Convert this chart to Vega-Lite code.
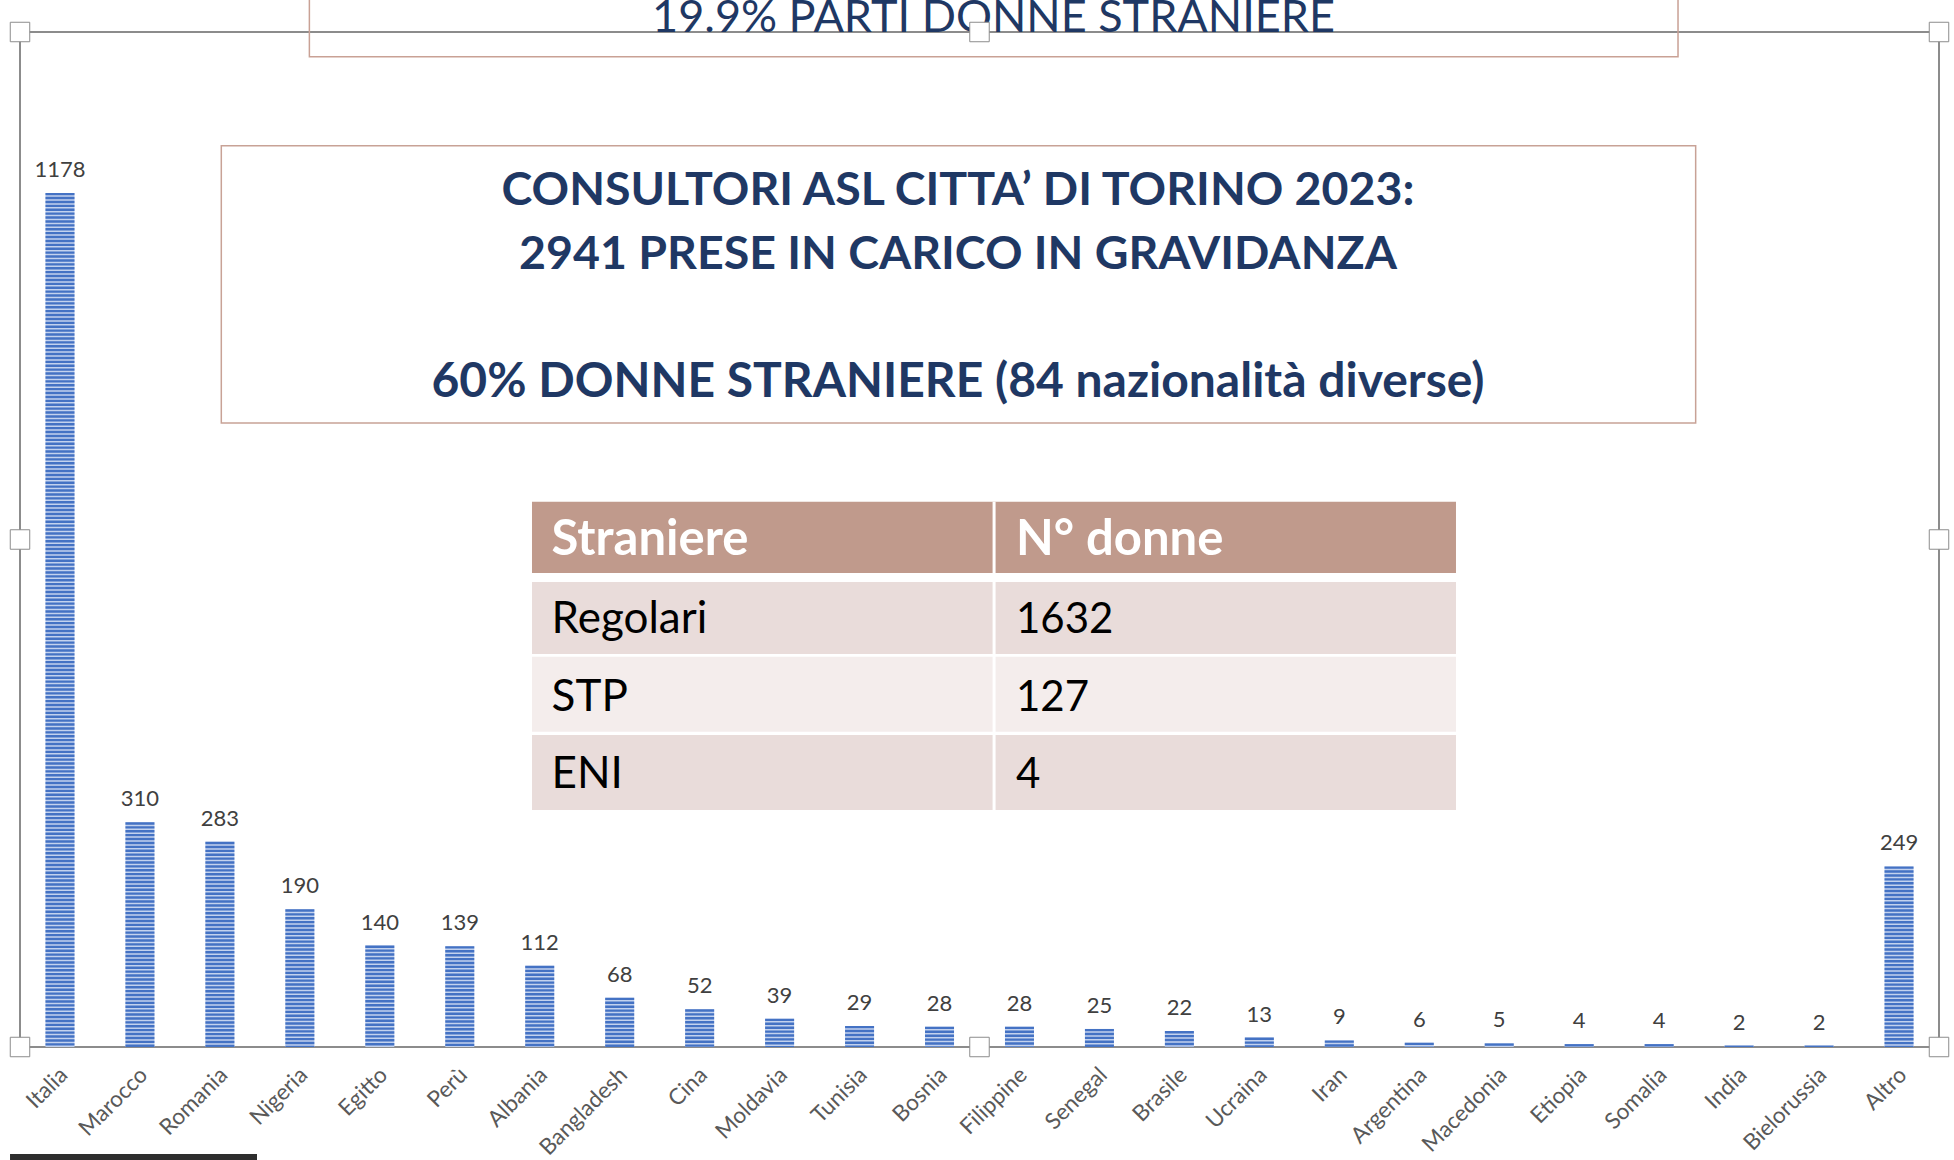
{
  "$schema": "https://vega.github.io/schema/vega-lite/v6.json",
  "width": 1919,
  "height": 1015,
  "autosize": {"type": "none"},
  "padding": {"left": 20, "top": 32, "right": 15, "bottom": 113},
  "background": "white",
  "config": {"view": {"stroke": "#8c8c8c", "strokeWidth": 2}, "font": "Lato"},
  "datasets": {
    "countries": [
      {"paese": "Italia", "n": 1178},
      {"paese": "Marocco", "n": 310},
      {"paese": "Romania", "n": 283},
      {"paese": "Nigeria", "n": 190},
      {"paese": "Egitto", "n": 140},
      {"paese": "Perù", "n": 139},
      {"paese": "Albania", "n": 112},
      {"paese": "Bangladesh", "n": 68},
      {"paese": "Cina", "n": 52},
      {"paese": "Moldavia", "n": 39},
      {"paese": "Tunisia", "n": 29},
      {"paese": "Bosnia", "n": 28},
      {"paese": "Filippine", "n": 28},
      {"paese": "Senegal", "n": 25},
      {"paese": "Brasile", "n": 22},
      {"paese": "Ucraina", "n": 13},
      {"paese": "Iran", "n": 9},
      {"paese": "Argentina", "n": 6},
      {"paese": "Macedonia", "n": 5},
      {"paese": "Etiopia", "n": 4},
      {"paese": "Somalia", "n": 4},
      {"paese": "India", "n": 2},
      {"paese": "Bielorussia", "n": 2},
      {"paese": "Altro", "n": 249}
    ],
    "table": [
      {"k": "h", "a": "Straniere", "b": "N° donne"},
      {"k": "r1", "a": "Regolari", "b": "1632"},
      {"k": "r2", "a": "STP", "b": "127"},
      {"k": "r3", "a": "ENI", "b": "4"}
    ],
    "titles": [
      {"k": "top", "t": "19.9% PARTI DONNE STRANIERE"},
      {"k": "l1", "t": "CONSULTORI ASL CITTA’ DI TORINO 2023:"},
      {"k": "l2", "t": "2941 PRESE IN CARICO IN GRAVIDANZA"},
      {"k": "l3", "t": "60% DONNE STRANIERE (84 nazionalità diverse)"}
    ],
    "one": [{"k": "x"}]
  },
  "layer": [
    {
      "data": {"name": "countries"},
      "layer": [
        {
          "mark": {"type": "bar", "fill": "#C3D2EE"},
          "encoding": {
            "x": {"field": "paese", "type": "nominal", "sort": null,
                  "scale": {"paddingInner": 0.637, "paddingOuter": 0.3185},
                  "axis": {"title": null, "labelAngle": -45, "labelFontSize": 22.5, "labelColor": "#595959",
                           "labelFont": "Lato", "ticks": false, "domain": false, "labelPadding": 24, "labelOffset": 4,
                           "labelAlign": "right", "labelBaseline": "middle"}},
            "y": {"field": "n", "type": "quantitative", "scale": {"domain": [0, 1400]}, "axis": null}
          }
        },
        {
          "mark": {"type": "rule", "color": "#4472C4", "strokeWidth": 29, "strokeDash": [2.4, 1.5], "strokeCap": "butt"},
          "encoding": {
            "x": {"field": "paese", "type": "nominal", "sort": null},
            "y": {"field": "n", "type": "quantitative", "axis": null},
            "y2": {"datum": 0}
          }
        },
        {
          "mark": {"type": "text", "baseline": "alphabetic", "dy": -16, "fontSize": 22, "color": "#404040", "font": "Lato"},
          "encoding": {
            "x": {"field": "paese", "type": "nominal", "sort": null},
            "y": {"field": "n", "type": "quantitative", "axis": null},
            "text": {"field": "n", "type": "quantitative"}
          }
        }
      ]
    },
    {
      "layer": [
        {
          "data": {"name": "one"},
          "mark": {"type": "rect", "filled": false, "stroke": "#C9A195", "strokeWidth": 1.5},
          "encoding": {
            "x": {"datum": 0.1508, "type": "quantitative", "scale": {"domain": [0, 1]}, "axis": null},
            "x2": {"datum": 0.864},
            "y": {"datum": 1366, "type": "quantitative", "axis": null},
            "y2": {"datum": 1500}
          }
        },
        {
          "data": {"name": "titles"},
          "transform": [{"filter": "datum.k == 'top'"}],
          "mark": {"type": "text", "align": "center", "baseline": "alphabetic", "fontSize": 45, "fontWeight": "normal", "color": "#1F3864", "font": "Lato"},
          "encoding": {
            "x": {"datum": 0.5073, "type": "quantitative", "scale": {"domain": [0, 1]}, "axis": null},
            "y": {"datum": 1400, "type": "quantitative", "axis": null},
            "text": {"field": "t"}
          }
        },
        {
          "data": {"name": "one"},
          "mark": {"type": "rect", "fill": "white", "stroke": "#C8A296", "strokeWidth": 1.5},
          "encoding": {
            "x": {"datum": 0.1049, "type": "quantitative", "scale": {"domain": [0, 1]}, "axis": null},
            "x2": {"datum": 0.8732},
            "y": {"datum": 1243.2, "type": "quantitative", "axis": null},
            "y2": {"datum": 860.7}
          }
        },
        {
          "data": {"name": "titles"},
          "transform": [{"filter": "datum.k == 'l1'"}],
          "mark": {"type": "text", "align": "center", "baseline": "alphabetic", "fontSize": 46.5, "fontWeight": "bold", "color": "#1F3864", "font": "Lato"},
          "encoding": {
            "x": {"datum": 0.4888, "type": "quantitative", "scale": {"domain": [0, 1]}, "axis": null},
            "y": {"datum": 1161.4, "type": "quantitative", "axis": null},
            "text": {"field": "t"}
          }
        },
        {
          "data": {"name": "titles"},
          "transform": [{"filter": "datum.k == 'l2'"}],
          "mark": {"type": "text", "align": "center", "baseline": "alphabetic", "fontSize": 46.5, "fontWeight": "bold", "color": "#1F3864", "font": "Lato"},
          "encoding": {
            "x": {"datum": 0.4888, "type": "quantitative", "scale": {"domain": [0, 1]}, "axis": null},
            "y": {"datum": 1073.1, "type": "quantitative", "axis": null},
            "text": {"field": "t"}
          }
        },
        {
          "data": {"name": "titles"},
          "transform": [{"filter": "datum.k == 'l3'"}],
          "mark": {"type": "text", "align": "center", "baseline": "alphabetic", "fontSize": 48, "fontWeight": "bold", "color": "#1F3864", "font": "Lato"},
          "encoding": {
            "x": {"datum": 0.4888, "type": "quantitative", "scale": {"domain": [0, 1]}, "axis": null},
            "y": {"datum": 896.6, "type": "quantitative", "axis": null},
            "text": {"field": "t"}
          }
        },
        {
          "data": {"name": "one"},
          "mark": {"type": "rect", "fill": "#C09A8C"},
          "encoding": {
            "x": {"datum": 0.2668, "type": "quantitative", "scale": {"domain": [0, 1]}, "axis": null},
            "x2": {"datum": 0.7483},
            "y": {"datum": 752.1, "type": "quantitative", "axis": null},
            "y2": {"datum": 653.8}
          }
        },
        {
          "data": {"name": "one"},
          "mark": {"type": "rect", "fill": "#E9DCDA"},
          "encoding": {
            "x": {"datum": 0.2668, "type": "quantitative", "scale": {"domain": [0, 1]}, "axis": null},
            "x2": {"datum": 0.7483},
            "y": {"datum": 641.4, "type": "quantitative", "axis": null},
            "y2": {"datum": 542.1}
          }
        },
        {
          "data": {"name": "one"},
          "mark": {"type": "rect", "fill": "#F4EDEC"},
          "encoding": {
            "x": {"datum": 0.2668, "type": "quantitative", "scale": {"domain": [0, 1]}, "axis": null},
            "x2": {"datum": 0.7483},
            "y": {"datum": 538.3, "type": "quantitative", "axis": null},
            "y2": {"datum": 434.9}
          }
        },
        {
          "data": {"name": "one"},
          "mark": {"type": "rect", "fill": "#E9DCDA"},
          "encoding": {
            "x": {"datum": 0.2668, "type": "quantitative", "scale": {"domain": [0, 1]}, "axis": null},
            "x2": {"datum": 0.7483},
            "y": {"datum": 430.3, "type": "quantitative", "axis": null},
            "y2": {"datum": 326.9}
          }
        },
        {
          "data": {"name": "one"},
          "mark": {"type": "rule", "color": "white", "strokeWidth": 3},
          "encoding": {
            "x": {"datum": 0.5076, "type": "quantitative", "scale": {"domain": [0, 1]}, "axis": null},
            "y": {"datum": 752.1, "type": "quantitative", "axis": null},
            "y2": {"datum": 326.9}
          }
        },
        {
          "data": {"name": "table"},
          "transform": [{"filter": "datum.k == 'h'"}],
          "mark": {"type": "text", "align": "left", "baseline": "alphabetic", "fontSize": 49, "fontWeight": "bold", "color": "white", "font": "Lato"},
          "encoding": {
            "x": {"datum": 0.277, "type": "quantitative", "scale": {"domain": [0, 1]}, "axis": null},
            "y": {"datum": 678.6, "type": "quantitative", "axis": null},
            "text": {"field": "a"}
          }
        },
        {
          "data": {"name": "table"},
          "transform": [{"filter": "datum.k == 'h'"}],
          "mark": {"type": "text", "align": "left", "baseline": "alphabetic", "fontSize": 49, "fontWeight": "bold", "color": "white", "font": "Lato"},
          "encoding": {
            "x": {"datum": 0.519, "type": "quantitative", "scale": {"domain": [0, 1]}, "axis": null},
            "y": {"datum": 678.6, "type": "quantitative", "axis": null},
            "text": {"field": "b"}
          }
        },
        {
          "data": {"name": "table"},
          "transform": [{"filter": "datum.k == 'r1'"}],
          "mark": {"type": "text", "align": "left", "baseline": "alphabetic", "fontSize": 44, "color": "black", "font": "Lato"},
          "encoding": {
            "x": {"datum": 0.277, "type": "quantitative", "scale": {"domain": [0, 1]}, "axis": null},
            "y": {"datum": 571.0, "type": "quantitative", "axis": null},
            "text": {"field": "a"}
          }
        },
        {
          "data": {"name": "table"},
          "transform": [{"filter": "datum.k == 'r1'"}],
          "mark": {"type": "text", "align": "left", "baseline": "alphabetic", "fontSize": 42, "color": "black", "font": "Lato"},
          "encoding": {
            "x": {"datum": 0.519, "type": "quantitative", "scale": {"domain": [0, 1]}, "axis": null},
            "y": {"datum": 571.0, "type": "quantitative", "axis": null},
            "text": {"field": "b"}
          }
        },
        {
          "data": {"name": "table"},
          "transform": [{"filter": "datum.k == 'r2'"}],
          "mark": {"type": "text", "align": "left", "baseline": "alphabetic", "fontSize": 44, "color": "black", "font": "Lato"},
          "encoding": {
            "x": {"datum": 0.277, "type": "quantitative", "scale": {"domain": [0, 1]}, "axis": null},
            "y": {"datum": 463.9, "type": "quantitative", "axis": null},
            "text": {"field": "a"}
          }
        },
        {
          "data": {"name": "table"},
          "transform": [{"filter": "datum.k == 'r2'"}],
          "mark": {"type": "text", "align": "left", "baseline": "alphabetic", "fontSize": 42, "color": "black", "font": "Lato"},
          "encoding": {
            "x": {"datum": 0.519, "type": "quantitative", "scale": {"domain": [0, 1]}, "axis": null},
            "y": {"datum": 463.9, "type": "quantitative", "axis": null},
            "text": {"field": "b"}
          }
        },
        {
          "data": {"name": "table"},
          "transform": [{"filter": "datum.k == 'r3'"}],
          "mark": {"type": "text", "align": "left", "baseline": "alphabetic", "fontSize": 44, "color": "black", "font": "Lato"},
          "encoding": {
            "x": {"datum": 0.277, "type": "quantitative", "scale": {"domain": [0, 1]}, "axis": null},
            "y": {"datum": 357.7, "type": "quantitative", "axis": null},
            "text": {"field": "a"}
          }
        },
        {
          "data": {"name": "table"},
          "transform": [{"filter": "datum.k == 'r3'"}],
          "mark": {"type": "text", "align": "left", "baseline": "alphabetic", "fontSize": 42, "color": "black", "font": "Lato"},
          "encoding": {
            "x": {"datum": 0.519, "type": "quantitative", "scale": {"domain": [0, 1]}, "axis": null},
            "y": {"datum": 357.7, "type": "quantitative", "axis": null},
            "text": {"field": "b"}
          }
        },
        {
          "data": {"name": "one"},
          "mark": {"type": "rect", "fill": "#2e2e2e"},
          "encoding": {
            "x": {"datum": -0.0052, "type": "quantitative", "scale": {"domain": [0, 1]}, "axis": null},
            "x2": {"datum": 0.1235},
            "y": {"datum": -147.6, "type": "quantitative", "axis": null},
            "y2": {"datum": -170}
          }
        },
        {"data": {"name": "one"}, "mark": {"type": "square", "size": 380, "filled": true, "fill": "white", "stroke": "#8c8c8c", "strokeWidth": 1, "opacity": 1},
         "encoding": {"x": {"datum": 0, "type": "quantitative", "scale": {"domain": [0, 1]}, "axis": null}, "y": {"datum": 1400, "type": "quantitative", "axis": null}}},
        {"data": {"name": "one"}, "mark": {"type": "square", "size": 380, "filled": true, "fill": "white", "stroke": "#8c8c8c", "strokeWidth": 1, "opacity": 1},
         "encoding": {"x": {"datum": 0.5, "type": "quantitative", "scale": {"domain": [0, 1]}, "axis": null}, "y": {"datum": 1400, "type": "quantitative", "axis": null}}},
        {"data": {"name": "one"}, "mark": {"type": "square", "size": 380, "filled": true, "fill": "white", "stroke": "#8c8c8c", "strokeWidth": 1, "opacity": 1},
         "encoding": {"x": {"datum": 1, "type": "quantitative", "scale": {"domain": [0, 1]}, "axis": null}, "y": {"datum": 1400, "type": "quantitative", "axis": null}}},
        {"data": {"name": "one"}, "mark": {"type": "square", "size": 380, "filled": true, "fill": "white", "stroke": "#8c8c8c", "strokeWidth": 1, "opacity": 1},
         "encoding": {"x": {"datum": 0, "type": "quantitative", "scale": {"domain": [0, 1]}, "axis": null}, "y": {"datum": 700, "type": "quantitative", "axis": null}}},
        {"data": {"name": "one"}, "mark": {"type": "square", "size": 380, "filled": true, "fill": "white", "stroke": "#8c8c8c", "strokeWidth": 1, "opacity": 1},
         "encoding": {"x": {"datum": 1, "type": "quantitative", "scale": {"domain": [0, 1]}, "axis": null}, "y": {"datum": 700, "type": "quantitative", "axis": null}}},
        {"data": {"name": "one"}, "mark": {"type": "square", "size": 380, "filled": true, "fill": "white", "stroke": "#8c8c8c", "strokeWidth": 1, "opacity": 1},
         "encoding": {"x": {"datum": 0, "type": "quantitative", "scale": {"domain": [0, 1]}, "axis": null}, "y": {"datum": 0, "type": "quantitative", "axis": null}}},
        {"data": {"name": "one"}, "mark": {"type": "square", "size": 380, "filled": true, "fill": "white", "stroke": "#8c8c8c", "strokeWidth": 1, "opacity": 1},
         "encoding": {"x": {"datum": 0.5, "type": "quantitative", "scale": {"domain": [0, 1]}, "axis": null}, "y": {"datum": 0, "type": "quantitative", "axis": null}}},
        {"data": {"name": "one"}, "mark": {"type": "square", "size": 380, "filled": true, "fill": "white", "stroke": "#8c8c8c", "strokeWidth": 1, "opacity": 1},
         "encoding": {"x": {"datum": 1, "type": "quantitative", "scale": {"domain": [0, 1]}, "axis": null}, "y": {"datum": 0, "type": "quantitative", "axis": null}}}
      ]
    }
  ],
  "resolve": {"scale": {"x": "independent"}}
}
